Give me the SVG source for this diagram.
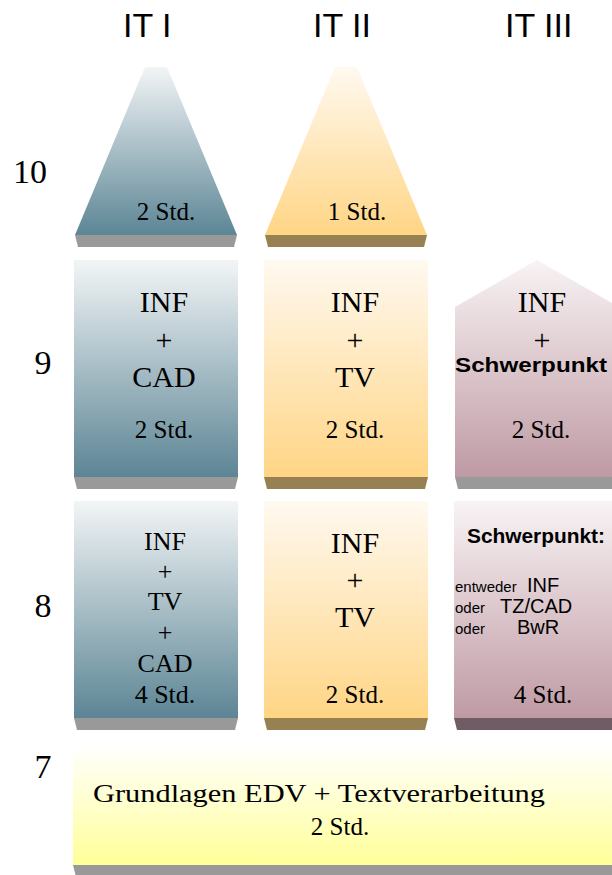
<svg xmlns="http://www.w3.org/2000/svg" width="612" height="875" viewBox="0 0 612 875">
<defs>
<linearGradient id="gBlue" x1="0" y1="0" x2="0" y2="1"><stop offset="0" stop-color="#f2f5f6"/><stop offset="1" stop-color="#5c8595"/></linearGradient>
<linearGradient id="gOrange" x1="0" y1="0" x2="0" y2="1"><stop offset="0" stop-color="#fff9f0"/><stop offset="1" stop-color="#ffd585"/></linearGradient>
<linearGradient id="gMauve" x1="0" y1="0" x2="0" y2="1"><stop offset="0" stop-color="#f8f3f4"/><stop offset="1" stop-color="#bf9aa4"/></linearGradient>
<linearGradient id="gYellow" x1="0" y1="0" x2="0" y2="1"><stop offset="0" stop-color="#ffffff"/><stop offset="1" stop-color="#ffff99"/></linearGradient>
</defs>
<style>
.hd{font-family:"Liberation Sans",Arial,sans-serif;font-size:34px;fill:#000}
.num{font-family:"Liberation Serif","Times New Roman",serif;font-size:34px;fill:#000;text-anchor:middle}
.big{font-family:"Liberation Serif","Times New Roman",serif;font-size:30px;fill:#000;text-anchor:middle}
.mid{font-family:"Liberation Serif","Times New Roman",serif;font-size:26px;fill:#000;text-anchor:middle}
.std{font-family:"Liberation Serif","Times New Roman",serif;font-size:25px;fill:#000;text-anchor:middle}
.bold{font-family:"Liberation Sans",Arial,sans-serif;font-size:20px;font-weight:bold;fill:#000;text-anchor:middle}
.sm{font-family:"Liberation Sans",Arial,sans-serif;font-size:15px;fill:#000}
.sv{font-family:"Liberation Sans",Arial,sans-serif;font-size:20px;fill:#000}
.shGray{fill:#999999}
.shBrown{fill:#978152}
.shMauve{fill:#705c64}
</style>

<g id="headers">
<text class="hd" x="123" y="37">IT I</text>
<text class="hd" x="313" y="37">IT II</text>
<text class="hd" x="505" y="37">IT III</text>
</g>

<g id="rowlabels">
<text class="num" x="30" y="183">10</text>
<text class="num" x="43" y="374">9</text>
<text class="num" x="43" y="617">8</text>
<text class="num" x="43" y="778">7</text>
</g>

<!-- Row 10 -->
<g id="r10c1">
<polygon class="shGray" points="75,235 237,235 234,247 78,247"/>
<polygon fill="url(#gBlue)" points="145,67 167,67 237,235 75,235"/>
<text class="std" x="166" y="220">2 Std.</text>
</g>
<g id="r10c2">
<polygon class="shBrown" points="265,235 427,235 424,247 268,247"/>
<polygon fill="url(#gOrange)" points="335,67 357,67 427,235 265,235"/>
<text class="std" x="357" y="220">1 Std.</text>
</g>

<!-- Row 9 -->
<g id="r9c1">
<polygon class="shGray" points="74,477 238,477 235,489 77,489"/>
<rect x="74" y="260" width="164" height="217" fill="url(#gBlue)"/>
<text class="big" x="164" y="312">INF</text>
<text class="big" x="164" y="350">+</text>
<text class="big" x="164" y="387">CAD</text>
<text class="std" x="164" y="438">2 Std.</text>
</g>
<g id="r9c2">
<polygon class="shBrown" points="264,477 428,477 425,489 267,489"/>
<rect x="264" y="260" width="164" height="217" fill="url(#gOrange)"/>
<text class="big" x="355" y="312">INF</text>
<text class="big" x="355" y="350">+</text>
<text class="big" x="355" y="387">TV</text>
<text class="std" x="355" y="438">2 Std.</text>
</g>
<g id="r9c3">
<polygon class="shGray" points="455,477 620,477 620,489 458,489"/>
<polygon fill="url(#gMauve)" points="455,307 537,260 619,307 619,477 455,477"/>
<text class="big" x="542" y="312">INF</text>
<text class="big" x="542" y="350">+</text>
<text class="bold" x="531" y="372" textLength="152" lengthAdjust="spacingAndGlyphs">Schwerpunkt</text>
<text class="std" x="541" y="438">2 Std.</text>
</g>

<!-- Row 8 -->
<g id="r8c1">
<polygon class="shGray" points="74,718 238,718 235,730 77,730"/>
<rect x="74" y="501" width="164" height="217" fill="url(#gBlue)"/>
<text class="mid" x="165" y="550">INF</text>
<text class="mid" x="165" y="580">+</text>
<text class="mid" x="165" y="610">TV</text>
<text class="mid" x="165" y="641">+</text>
<text class="mid" x="165" y="672">CAD</text>
<text class="mid" x="165" y="703">4 Std.</text>
</g>
<g id="r8c2">
<polygon class="shBrown" points="264,718 428,718 425,730 267,730"/>
<rect x="264" y="501" width="164" height="217" fill="url(#gOrange)"/>
<text class="big" x="355" y="553">INF</text>
<text class="big" x="355" y="590">+</text>
<text class="big" x="355" y="627">TV</text>
<text class="std" x="355" y="703">2 Std.</text>
</g>
<g id="r8c3">
<polygon class="shMauve" points="454,718 620,718 620,730 457,730"/>
<rect x="454" y="501" width="166" height="217" fill="url(#gMauve)"/>
<text class="bold" x="536" y="543" textLength="138" lengthAdjust="spacingAndGlyphs">Schwerpunkt:</text>
<text class="sm" x="455" y="592">entweder</text>
<text class="sv" x="527" y="592">INF</text>
<text class="sm" x="455" y="613">oder</text>
<text class="sv" x="500" y="613">TZ/CAD</text>
<text class="sm" x="455" y="634">oder</text>
<text class="sv" x="517" y="634">BwR</text>
<text class="std" x="543" y="703">4 Std.</text>
</g>

<!-- Row 7 -->
<g id="r7">
<polygon class="shGray" points="73,865 620,865 620,877 76,877"/>
<rect x="73" y="745" width="547" height="120" fill="url(#gYellow)"/>
<text class="mid" x="319" y="802" font-size="28" textLength="452" lengthAdjust="spacingAndGlyphs">Grundlagen EDV + Textverarbeitung</text>
<text class="std" x="340" y="835">2 Std.</text>
</g>

<g id="connectors"></g>
</svg>
